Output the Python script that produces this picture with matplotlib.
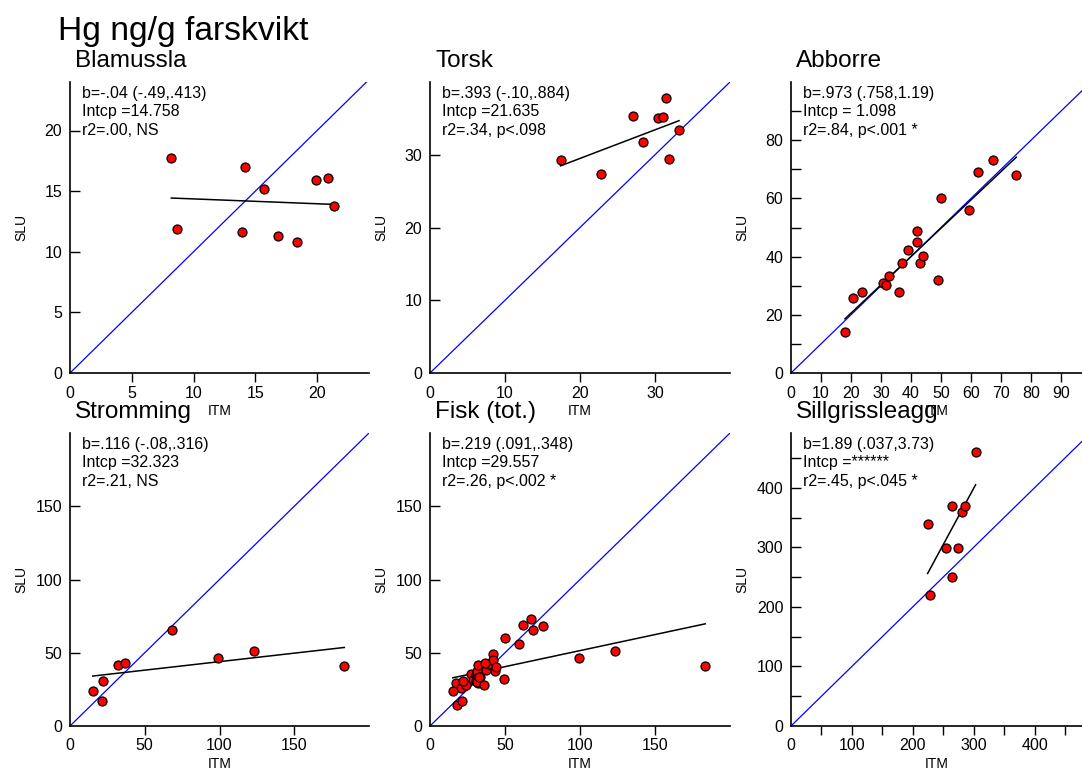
import matplotlib.pyplot as plt

plt.rcParams['font.family'] = ['Liberation Sans', 'DejaVu Sans']

# Hg ng/g, ITM (x) vs SLU (y)
blamussla_itm = [8.2, 14.2, 8.7, 15.7, 19.9, 20.9, 21.4, 13.9, 16.8, 18.4]
blamussla_slu = [17.7, 17.0, 11.9, 15.2, 15.9, 16.05, 13.8, 11.6, 11.3, 10.8]

torsk_itm = [17.4, 22.8, 27.1, 28.4, 30.4, 31.1, 31.5, 31.9, 33.2]
torsk_slu = [29.3, 27.3, 35.3, 31.7, 35.1, 35.2, 37.8, 29.4, 33.4]

abborre_itm = [18.0, 20.8, 23.8, 30.6, 31.6, 32.8, 35.9, 37.0, 39.1, 42.1,
               42.1, 43.1, 44.0, 49.1, 50.1, 59.2, 62.2, 67.2, 75.1]
abborre_slu = [14.2, 25.7, 27.9, 31.0, 30.3, 33.5, 27.8, 37.9, 42.1, 48.9,
               44.9, 37.8, 40.2, 32.0, 60.0, 56.0, 69.1, 73.1, 68.0]

stromming_itm = [15.2, 21.2, 22.3, 31.9, 36.6, 68.5, 99.3, 123.2, 183.5]
stromming_slu = [23.7, 16.9, 31.0, 41.3, 43.2, 65.3, 46.3, 50.9, 40.9]

# total fish = torsk + abborre + stromming
fisk_itm = torsk_itm + abborre_itm + stromming_itm
fisk_slu = torsk_slu + abborre_slu + stromming_slu

sill_itm = [224.4, 228.2, 255.1, 263.8, 263.8, 274.2, 280.8, 285.2, 303.2]
sill_slu = [339.9, 219.9, 299.5, 369.6, 250.1, 299.5, 360.1, 369.6, 460.5]

names = ['Blamussla', 'Torsk', 'Abborre', 'Stromming', 'Fisk (tot.)', 'Sillgrissleagg']
itm = [blamussla_itm, torsk_itm, abborre_itm, stromming_itm, fisk_itm, sill_itm]
slu = [blamussla_slu, torsk_slu, abborre_slu, stromming_slu, fisk_slu, sill_slu]
slopes = [-0.04, 0.393, 0.973, 0.116, 0.219, 1.89]
intercepts = [14.758, 21.635, 1.098, 32.323, 29.557, -168.0]
stats = [
    ["b=-.04 (-.49,.413)", "Intcp =14.758", "r2=.00, NS"],
    ["b=.393 (-.10,.884)", "Intcp =21.635", "r2=.34, p<.098"],
    ["b=.973 (.758,1.19)", "Intcp = 1.098", "r2=.84, p<.001 *"],
    ["b=.116 (-.08,.316)", "Intcp =32.323", "r2=.21, NS"],
    ["b=.219 (.091,.348)", "Intcp =29.557", "r2=.26, p<.002 *"],
    ["b=1.89 (.037,3.73)", "Intcp =******", "r2=.45, p<.045 *"],
]

limits = [(24.2, 24), (40, 40), (97, 100), (200, 200), (200, 200), (478, 492)]
# labelled ticks and unlabelled (minor) ticks
x_major = [[0, 5, 10, 15, 20], [0, 10, 20, 30], list(range(0, 91, 10)),
           [0, 50, 100, 150], [0, 50, 100, 150], [0, 100, 200, 300, 400]]
x_minor = [[], [], [], [], [], [50, 150, 250, 350, 450]]
y_major = [[0, 5, 10, 15, 20], [0, 10, 20, 30], [0, 20, 40, 60, 80],
           [0, 50, 100, 150], [0, 50, 100, 150], [0, 100, 200, 300, 400]]
y_minor = [[], [], [10, 30, 50, 70, 90], [], [], [50, 150, 250, 350, 450]]

W, H = 1082, 769
fig = plt.figure(figsize=(W / 100, H / 100), dpi=100)

cols = [(70, 369), (430, 730), (791, 1082)]
rows = [(82, 373), (433, 726)]

fig.text(58 / W, 1 - 40 / H, "Hg ng/g farskvikt", fontsize=24.2, va='baseline')

for i in range(6):
    l, r = cols[i % 3]
    t, b = rows[i // 3]
    wpx, hpx = r - l, b - t
    ax = fig.add_axes([l / W, 1 - b / H, wpx / W, hpx / H])

    ax.axline((0, 0), slope=1, color='blue', lw=0.9, zorder=1)
    x0, x1 = min(itm[i]), max(itm[i])
    ax.plot([x0, x1], [intercepts[i] + slopes[i] * x0, intercepts[i] + slopes[i] * x1],
            color='black', lw=1.1, zorder=2)
    ax.scatter(itm[i], slu[i], s=42, color='red', edgecolor='black', linewidth=0.9,
               zorder=3, clip_on=False)

    ax.set_xlim(0, limits[i][0])
    ax.set_ylim(0, limits[i][1])
    ax.set_xticks(x_major[i])
    ax.set_yticks(y_major[i])
    ax.set_xticks(x_minor[i], minor=True)
    ax.set_yticks(y_minor[i], minor=True)

    for s in ['top', 'right']:
        ax.spines[s].set_visible(False)
    for s in ['left', 'bottom']:
        ax.spines[s].set_linewidth(1.2)

    ax.tick_params(axis='x', which='both', direction='out', length=6.5, width=1.0,
                   labelsize=11.5, pad=2.5)
    ax.tick_params(axis='y', which='both', direction='in', length=7.5, width=1.0,
                   labelsize=11.5, pad=5.5)
    ax.xaxis.get_major_ticks()[0].tick1line.set_visible(False)
    ax.yaxis.get_major_ticks()[0].tick1line.set_visible(False)

    ax.set_xlabel("ITM", fontsize=10, va='top')
    ax.xaxis.set_label_coords(0.5, -31 / hpx)
    ax.set_ylabel("SLU", fontsize=10)
    ax.yaxis.set_label_coords(-42 / wpx, 0.5)

    ax.annotate(names[i], xy=(0, 1), xycoords='axes fraction', xytext=(5, 15),
                textcoords='offset pixels', fontsize=17.5, va='baseline', ha='left')
    for k, line in enumerate(stats[i]):
        ax.annotate(line, xy=(0, 1), xycoords='axes fraction',
                    xytext=(12, -4 - 18.3 * k), textcoords='offset pixels',
                    fontsize=11.5, va='top', ha='left')

fig.savefig('out.png', dpi=100)
